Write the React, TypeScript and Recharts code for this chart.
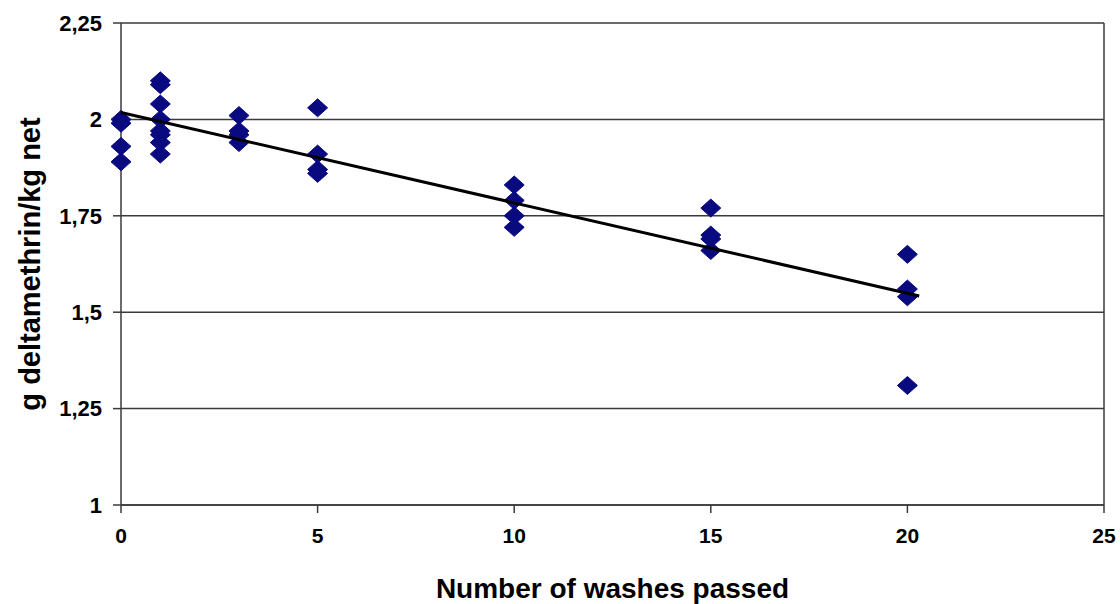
import { ScatterChart, Scatter, XAxis, YAxis, CartesianGrid, ReferenceLine, Label } from 'recharts';

// washes passed -> g deltamethrin / kg net
const washes = [0, 1, 3, 5, 10, 15, 20];
const wash0 = [2.0, 1.99, 1.93, 1.89];
const wash1 = [2.1, 2.09, 2.04, 2.0, 1.97, 1.96, 1.94, 1.91];
const wash3 = [2.01, 1.97, 1.96, 1.94];
const wash5 = [2.03, 1.91, 1.87, 1.86];
const wash10 = [1.83, 1.79, 1.75, 1.72];
const wash15 = [1.77, 1.7, 1.69, 1.66];
const wash20 = [1.65, 1.56, 1.54, 1.31];

// linear trendline end points
const trendX = [0, 20.3];
const trendY = [2.018, 1.542];

const xTicks = [0, 5, 10, 15, 20, 25];
const yTicks = [1, 1.25, 1.5, 1.75, 2, 2.25];

const groups = [wash0, wash1, wash3, wash5, wash10, wash15, wash20];
const points = groups.flatMap((vals, i) => vals.map((v) => ({ x: washes[i], y: v })));
const trend = trendX.map((x, i) => ({ x, y: trendY[i] }));

const FONT = '"Liberation Sans", Arial, sans-serif';
const AXIS = '#3a3a3a';

const Diamond = (props: any) => {
  const { cx, cy } = props;
  if (cx == null || cy == null) return null;
  const w = 10;
  const h = 9;
  return (
    <path
      d={`M${cx},${cy - h}L${cx + w},${cy}L${cx},${cy + h}L${cx - w},${cy}Z`}
      fill="#0a0a80"
      stroke="#0a0a80"
      strokeWidth={1}
    />
  );
};

const fmt = (v: number) => String(v).replace('.', ',');

export default function App() {
  return (
    <div style={{ position: 'absolute', left: 0, top: 0, background: '#fff' }}>
      <ScatterChart width={1120} height={604} margin={{ top: 23, right: 16, left: 0, bottom: 0 }}>
        <CartesianGrid vertical={false} stroke={AXIS} strokeWidth={1.5} />
        <XAxis
          type="number"
          dataKey="x"
          domain={[0, 25]}
          ticks={xTicks}
          height={99}
          stroke={AXIS}
          strokeWidth={1.5}
          tickSize={8}
          tickMargin={15}
          tick={{ fill: '#000', fontSize: 21, fontWeight: 'bold', fontFamily: FONT }}
        >
          <Label
            value="Number of washes passed"
            position="insideBottom"
            offset={6}
            style={{ fill: '#000', fontSize: 28, fontWeight: 'bold', fontFamily: FONT }}
          />
        </XAxis>
        <YAxis
          type="number"
          dataKey="y"
          domain={[1, 2.25]}
          ticks={yTicks}
          width={121}
          stroke={AXIS}
          strokeWidth={1.5}
          tickSize={8}
          tickMargin={11}
          tickFormatter={fmt}
          tick={{ fill: '#000', fontSize: 22, fontWeight: 'bold', fontFamily: FONT }}
        >
          <Label
            value="g deltamethrin/kg net"
            angle={-90}
            position="center"
            dx={-31}
            style={{ fill: '#000', fontSize: 29, fontWeight: 'bold', fontFamily: FONT, textAnchor: 'middle' }}
          />
        </YAxis>
        <ReferenceLine x={25} stroke={AXIS} strokeWidth={1.5} />
        <Scatter data={points} shape={<Diamond />} isAnimationActive={false} />
        <Scatter
          data={trend}
          line={{ stroke: '#000', strokeWidth: 3 }}
          shape={() => null}
          isAnimationActive={false}
        />
      </ScatterChart>
    </div>
  );
}
